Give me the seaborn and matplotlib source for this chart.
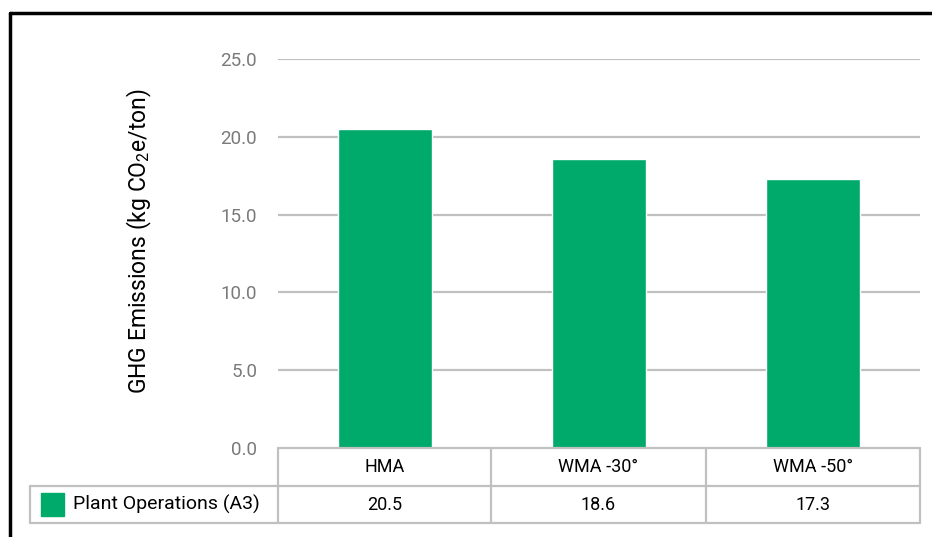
import matplotlib
matplotlib.use("Agg")
import matplotlib.pyplot as plt
import seaborn as sns
import pandas as pd
from matplotlib.lines import Line2D
from matplotlib.patches import Rectangle

categories = ["HMA", "WMA -30°", "WMA -50°"]
values = [20.5, 18.6, 17.3]
value_labels = ["20.5", "18.6", "17.3"]
series_name = "Plant Operations (A3)"
yticks = [0, 5, 10, 15, 20, 25]

sns.set_theme(style="white")
plt.rcParams["font.family"] = ["Roboto", "DejaVu Sans"]

W, H = 932, 537
fig = plt.figure(figsize=(W / 100, H / 100), dpi=100)

def fx(px):
    return px / W

def fy(py):
    return 1 - py / H

ax_l, ax_r, ax_t, ax_b = 278, 920, 59, 448
ax = fig.add_axes([fx(ax_l), fy(ax_b), fx(ax_r - ax_l), (ax_b - ax_t) / H])

green = "#00AA6A"
grid_c = "#c0c0c0"
df = pd.DataFrame({"cat": categories, "val": values})
sns.barplot(data=df, x="cat", y="val", color=green, width=0.44, saturation=1, ax=ax)
ax.set_ylim(0, 25)
ax.set_xlim(-0.5, 2.5)
ax.set_yticks(yticks)
ax.set_yticklabels([f"{t:.1f}" for t in yticks], color="#7a7a7a", fontsize=13.5)
ax.tick_params(axis="y", length=0, pad=15)
ax.set_xticks([])
ax.set_xlabel("")
ax.set_ylabel("")
for s in ax.spines.values():
    s.set_visible(False)
for t in yticks[1:]:
    ax.axhline(t, color=grid_c, lw=1.6, zorder=0)

fig.text(fx(139), fy(241), "GHG Emissions (kg CO$_\\mathregular{2}$e/ton)", rotation=90,
         ha="center", va="center", fontsize=16.5, color="black")

# table lines
def line(x0, y0, x1, y1, c=grid_c, lw=1.6):
    fig.add_artist(Line2D([fx(x0), fx(x1)], [fy(y0), fy(y1)], color=c, lw=lw))

r0, r1, r2 = 448, 486, 523
cols = [278, 491, 706, 920]
line(278, r0, 920, r0)
line(30, r1, 920, r1)
line(30, r2, 920, r2)
line(30, r1, 30, r2)
for c in cols:
    line(c, r0, c, r2)

for i, (cat, lab) in enumerate(zip(categories, value_labels)):
    cx = (cols[i] + cols[i + 1]) / 2
    fig.text(fx(cx), fy((r0 + r1) / 2), cat, ha="center", va="center", fontsize=13, color="black")
    fig.text(fx(cx), fy((r1 + r2) / 2), lab, ha="center", va="center", fontsize=13, color="black")

fig.add_artist(Rectangle((fx(41), fy(516)), fx(23), 23 / H, color=green, transform=fig.transFigure))
fig.text(fx(73), fy((r1 + r2) / 2), series_name, ha="left", va="center", fontsize=14, color="black")

# outer black frame
line(10, 13, 932, 13, c="black", lw=2.5)
line(10, 13, 10, 537, c="black", lw=2.5)

fig.savefig("out.png", dpi=100)
